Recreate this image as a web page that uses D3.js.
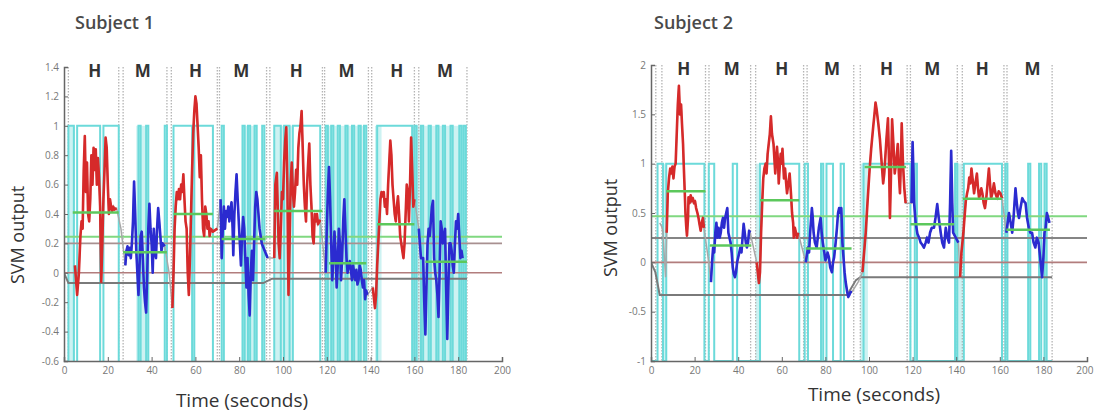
<!DOCTYPE html>
<html>
<head>
<meta charset="utf-8">
<script src="https://cdn.jsdelivr.net/npm/d3@7"></script>
<style>
  body { margin: 0; background: #fff; }
  svg text { font-family: "Open Sans", sans-serif; }
</style>
</head>
<body>
<div id="chart"></div>
<script>
// ---- shared ----
const blockLabels = ["H", "M", "H", "M", "H", "M", "H", "M"];
const xTicks = [0, 20, 40, 60, 80, 100, 120, 140, 160, 180, 200];

// ---- Subject 1 ----
const s1YTicks = [-0.6, -0.4, -0.2, 0, 0.2, 0.4, 0.6, 0.8, 1, 1.2, 1.4];
const s1LabelT = [14, 36, 60, 81, 106, 129, 152, 174];
const s1Blocks = [[5, 25], [27, 47], [49, 70], [71, 93], [94, 118], [119, 139], [140.5, 160.5], [162, 184]];
const s1Bounds = [2, 25, 27, 47, 49, 70, 71, 92.5, 94, 118, 119, 139, 140.5, 160, 162, 184];
const s1CyanHigh = [[2, 4.5], [6, 16.5], [18, 25], [34, 35], [37.5, 38.5], [46, 47], [50, 58.5], [59.5, 68],
  [72, 73], [81.5, 82.5], [84, 85], [87, 88], [90.5, 91.5], [96, 99], [100.5, 103], [104.5, 117],
  [119.5, 120.5], [122, 123], [125, 126], [128.5, 129.5], [131.5, 132.5], [134.5, 135.5],
  [137, 138], [143, 159], [160, 161], [163, 164], [166.5, 167.5], [170, 171], [173, 174], [176.5, 177.5],
  [180.5, 181.5], [182.5, 183.5]];
const s1CyanDense = [[2, 5], [33, 38.5], [81.5, 88], [96, 104], [119, 138.5], [142, 145], [158.5, 184]];
const s1Means = [[4, 25, 0.41], [27, 47, 0.14], [50, 68, 0.40], [72, 92, 0.23], [96, 118, 0.42],
  [121, 138, 0.065], [143, 160, 0.33], [165, 184, 0.075]];
const s1Threshold = 0.245;
const s1RefLines = [0, 0.2];
const s1Baseline = [[0, 0], [2, -0.07], [91, -0.07], [95, -0.04], [184, -0.04]];
const s1Series = [
  [5, 0.05], [6, -0.15], [6.8, 0.0], [7.5, 0.25], [8, 0.35], [8.5, 0.3], [9, 0.7], [9.5, 0.93], [10, 0.55],
  [10.5, 0.75], [11, 0.4], [11.5, 0.35], [12, 0.5], [12.5, 0.8], [13, 0.6], [13.5, 0.85], [14, 0.7],
  [14.5, 0.84], [15, 0.6], [15.5, 0.78], [16, 0.65], [16.5, 0.45], [17, -0.06], [17.5, 0.2], [18, 0.5],
  [18.5, 0.7], [19, 0.92], [19.5, 0.85], [20, 0.6], [20.5, 0.4], [21, 0.5], [21.5, 0.45], [22, 0.42],
  [22.5, 0.45], [23, 0.43], [24, 0.44],
  [26, 0.3], [28, 0.05], [28.5, 0.15], [29, 0.18], [29.5, 0.12], [30, 0.17], [30.5, 0.1], [31, 0.2],
  [31.5, 0.35], [32, 0.62], [32.5, 0.4], [33, 0.15], [33.5, 0.0], [34, -0.15], [34.5, 0.05], [35, 0.25],
  [35.5, 0.28], [36, 0.1], [36.5, -0.1], [37, -0.2], [37.5, -0.27], [38, 0.0], [38.5, 0.3], [39, 0.47],
  [39.5, 0.3], [40, 0.2], [40.5, 0.0], [41, 0.3], [41.5, 0.15], [42, 0.1], [42.5, 0.3], [43, 0.44],
  [43.5, 0.35], [44, 0.25], [44.5, 0.15], [45, 0.2], [46, 0.18],
  [48, 0.0], [49.5, -0.24], [50, 0.0], [50.5, 0.3], [51, 0.45], [51.5, 0.55], [52, 0.5], [52.5, 0.57],
  [53, 0.5], [53.5, 0.6], [54, 0.55], [54.5, 0.67], [55, 0.5], [55.5, 0.35], [56, 0.3], [56.5, 0.0],
  [57, -0.15], [57.5, 0.1], [58, 0.4], [58.5, 0.7], [59, 0.95], [59.5, 1.1], [60, 1.2], [60.5, 1.15],
  [61, 1.0], [61.5, 0.85], [62, 0.65], [62.5, 0.8], [63, 0.5], [63.5, 0.3], [64, 0.25], [64.5, 0.45],
  [65, 0.4], [65.5, 0.3], [66, 0.35], [66.5, 0.25], [67, 0.3], [68, 0.28],
  [70, 0.3], [71.5, 0.5], [72, 0.1], [72.5, 0.3], [73, 0.45], [73.5, 0.3], [74, 0.42], [74.5, 0.38],
  [75, 0.45], [75.5, 0.35], [76, 0.42], [76.5, 0.48], [77, 0.3], [77.3, 0.12], [77.8, 0.4], [78.3, 0.55],
  [78.8, 0.67], [79.3, 0.5], [79.8, 0.35], [80.3, 0.2], [80.8, 0.05], [81.3, 0.25], [81.8, 0.38],
  [82.3, 0.3], [82.8, 0.1], [83.3, -0.1], [83.8, 0.1], [84.3, -0.15], [84.8, -0.29], [85.3, 0.0],
  [85.8, 0.15], [86.3, -0.05], [86.8, 0.2], [87.3, 0.45], [87.8, 0.55], [88.3, 0.5], [88.8, 0.4],
  [89.3, 0.3], [89.8, 0.25], [90.3, 0.2], [90.8, 0.18],
  [93, 0.1], [96, 0.1], [96.5, 0.6], [97.2, 0.68], [98, 0.2], [98.5, 0.1], [99, 0.3], [99.5, 0.55],
  [100, 0.5], [100.5, 0.75], [101, 0.9], [101.5, 0.99], [102, 0.6], [102.5, -0.15], [103, 0.2],
  [103.5, 0.6], [104, 0.75], [104.5, 0.55], [105, 0.45], [105.5, 0.55], [106, 0.7], [106.5, 0.6],
  [107, 0.85], [107.5, 0.95], [108, 1.0], [108.5, 1.1], [109, 0.85], [109.5, 0.6], [110, 0.45],
  [110.5, 0.35], [111, 0.6], [111.5, 0.75], [112, 0.88], [112.5, 0.6], [113, 0.45], [113.5, 0.25],
  [114, 0.2], [114.5, 0.4], [115, 0.35], [115.5, 0.4], [116, 0.33], [117, 0.36],
  [119.5, 0.0], [120, 0.3], [120.5, 0.55], [121, 0.72], [121.5, 0.5], [122, 0.2], [122.5, -0.05],
  [123, 0.1], [123.5, 0.28], [124, 0.15], [124.5, -0.1], [125, 0.05], [125.5, 0.3], [126, 0.2],
  [126.5, -0.05], [127, 0.1], [127.5, 0.35], [128, 0.5], [128.5, 0.3], [129, 0.1], [129.5, 0.0],
  [130, 0.05], [130.5, 0.08], [131, 0.02], [131.5, -0.05], [132, 0.05], [132.5, 0.0], [133, -0.05],
  [133.5, 0.02], [134, -0.08], [134.5, -0.05], [135, 0.05], [135.5, 0.02], [136, -0.05], [136.5, -0.1],
  [137, -0.05], [137.5, -0.18], [138, -0.12], [138.5, -0.15],
  [141, -0.1], [142, -0.24], [142.5, -0.15], [143, 0.05], [143.5, 0.2], [144, 0.35], [144.5, 0.5],
  [145, 0.55], [145.5, 0.52], [146, 0.55], [146.5, 0.45], [147, 0.5], [147.5, 0.4], [148, 0.6],
  [148.5, 0.75], [149, 0.9], [149.5, 0.8], [150, 0.6], [150.5, 0.5], [151, 0.4], [151.5, 0.35],
  [152, 0.45], [152.5, 0.52], [153, 0.4], [153.5, 0.25], [154, 0.2], [154.5, 0.15], [155, 0.1],
  [155.5, 0.2], [156, 0.4], [156.5, 0.6], [157, 0.55], [157.5, 0.35], [158, 0.6], [158.5, 0.92],
  [159, 0.7], [159.5, 0.45], [160, 0.5],
  [162, 0.3], [163, 0.1], [164, 0.1], [164.5, -0.2], [165, -0.42], [165.5, -0.1], [166, 0.2],
  [166.5, 0.3], [167, 0.25], [167.5, 0.35], [168, 0.45], [168.5, 0.49], [169, 0.1], [169.5, 0.0],
  [170, -0.05], [170.5, -0.15], [171, -0.3], [171.5, 0.0], [172, 0.35], [172.5, 0.3], [173, 0.2],
  [173.5, 0.25], [174, 0.3], [174.5, -0.1], [175, -0.45], [175.5, -0.1], [176, 0.2], [176.5, 0.2],
  [177, 0.15], [177.5, 0.05], [178, 0.0], [178.5, 0.2], [179, 0.35], [179.5, 0.3], [180, 0.4],
  [180.5, 0.25], [181, 0.1], [181.5, 0.15], [182, 0.1]
];

// ---- Subject 2 ----
const s2YTicks = [-1, -0.5, 0, 0.5, 1, 1.5, 2];
const s2LabelT = [15, 37, 60, 83, 108, 129, 152, 175];
const s2Blocks = [[7, 25.5], [26.6, 47], [48, 70], [71, 94], [96, 118], [119, 141], [141.5, 162], [163, 184]];
const s2Bounds = [2.2, 5, 25, 26.6, 45.7, 48, 70, 71.6, 93, 96, 117.5, 119, 140.5, 142.8, 161.9, 163.3, 184];
const s2CyanHigh = [[3, 5.5], [7, 24.5], [26.5, 29], [37.5, 39.5], [50, 68], [70.5, 72], [78, 79],
  [80.5, 83.5], [87, 88.5], [97.5, 119], [121, 122], [139.5, 140.5], [143.5, 161], [162.5, 163.5],
  [173, 174], [178, 179], [180.5, 181.5]];
const s2CyanDense = [[5, 7.3], [48, 50.5], [96, 99.5], [139, 143]];
const s2Means = [[7, 25, 0.72], [27, 46, 0.17], [50, 68, 0.63], [71, 92, 0.14], [98, 117, 0.965],
  [119, 139, 0.385], [143, 161, 0.645], [163, 183, 0.33]];
const s2Threshold = 0.466;
const s2RefLines = [0];
const s2GrayLines = [0.246];
const s2Baseline = [[0, 0], [2, -0.1], [4, -0.33], [90, -0.33], [94, -0.18], [96, -0.15], [184, -0.15]];
const s2Series = [
  [4, 0.4], [5, 0.36], [5.5, 0.3], [6, 0.1], [6.7, -0.15], [7.2, 0.3], [7.7, 0.7], [8.3, 0.86], [8.8, 0.95],
  [9.3, 0.9], [9.8, 0.97], [10.3, 0.85], [10.8, 0.97], [11.3, 1.0], [11.8, 1.3], [12.3, 1.6], [12.8, 1.79],
  [13.3, 1.5], [13.8, 1.6], [14.2, 1.41], [14.7, 1.2], [15, 1.0], [15.5, 0.7], [15.8, 0.5], [16.2, 0.35],
  [16.5, 0.27], [17, 0.45], [17.2, 0.66], [17.7, 0.6], [18.2, 0.68], [18.7, 0.62], [19.2, 0.65],
  [19.7, 0.6], [20.2, 0.62], [20.7, 0.55], [21.3, 0.5], [21.8, 0.45], [22.3, 0.38], [22.8, 0.32],
  [23.3, 0.4], [23.8, 0.45], [24.3, 0.35],
  [26.5, 0.0], [27.5, -0.2], [28, 0.0], [28.5, 0.15], [29, 0.1], [29.5, 0.3], [30, 0.4], [30.5, 0.25],
  [31, 0.35], [31.5, 0.25], [32, 0.3], [32.5, 0.4], [33, 0.45], [33.5, 0.35], [34, 0.45], [34.5, 0.5],
  [35, 0.55], [35.5, 0.3], [36, 0.25], [36.5, 0.2], [37, 0.1], [37.5, -0.05], [38, -0.12], [38.5, -0.15],
  [39, -0.1], [39.5, 0.0], [40, 0.05], [40.5, 0.1], [41, 0.15], [41.5, 0.1], [42, 0.25], [42.5, 0.39],
  [43, 0.3], [43.5, 0.2], [44, 0.15], [44.5, 0.2], [45, 0.32], [45.5, 0.3],
  [48.5, 0.0], [49.5, -0.21], [50, -0.1], [50.5, 0.3], [51, 0.6], [51.5, 0.85], [52, 0.95], [52.6, 1.0],
  [53, 0.9], [53.5, 1.1], [54, 1.2], [54.5, 1.3], [55, 1.48], [55.5, 1.3], [56.2, 1.2], [57, 0.9],
  [57.8, 1.17], [58.3, 1.0], [58.6, 0.8], [59, 0.95], [59.5, 1.1], [60, 1.0], [60.3, 1.15], [61, 0.85],
  [61.5, 0.95], [62, 0.8], [62.4, 0.7], [63, 0.8], [63.6, 0.9], [64.2, 0.7], [64.7, 0.5], [65.2, 0.4],
  [65.5, 0.25], [66, 0.35], [66.5, 0.3], [67, 0.25], [67.5, 0.3],
  [71, 0.0], [72, 0.15], [72.5, 0.1], [73, 0.3], [73.8, 0.55], [74.2, 0.45], [74.6, 0.3], [75.2, 0.2],
  [76, 0.15], [76.5, 0.25], [77, 0.35], [77.8, 0.45], [78.3, 0.3], [78.8, 0.2], [79.5, 0.1], [80, 0.02],
  [80.5, 0.05], [81, 0.1], [81.6, 0.05], [82.2, -0.05], [83, -0.1], [83.5, 0.0], [84, 0.05], [84.7, 0.2],
  [85.3, 0.35], [85.8, 0.5], [86.3, 0.55], [86.8, 0.5], [87.3, 0.55], [87.8, 0.2], [88.3, 0.05],
  [88.8, -0.1], [89.3, -0.2], [90, -0.3], [90.5, -0.35], [91, -0.33], [91.5, -0.3], [92.2, -0.3],
  [95, -0.2], [97, -0.1], [98.5, 0.3], [99.3, 0.6], [100.3, 0.95], [101, 1.15], [102, 1.39], [102.5, 1.5],
  [103, 1.62], [103.5, 1.55], [104.3, 1.4], [105, 1.25], [105.5, 1.1], [106, 0.95], [106.5, 0.8],
  [107, 0.9], [107.3, 1.0], [108, 1.25], [108.7, 1.46], [109.2, 1.0], [109.6, 0.45], [110, 0.8],
  [110.6, 1.45], [111.2, 1.2], [111.8, 0.9], [112.4, 1.0], [113.2, 1.2], [113.7, 0.9], [114.2, 0.7],
  [114.6, 1.0], [115, 1.41], [115.6, 1.0], [116.2, 0.75], [116.8, 0.6],
  [119.5, 0.6], [120, 1.22], [120.4, 0.9], [120.7, 0.6], [121.4, 0.4], [122.2, 0.29], [123, 0.25],
  [123.7, 0.2], [124.4, 0.18], [125.2, 0.15], [126, 0.2], [126.6, 0.25], [127.3, 0.2], [128, 0.3],
  [128.8, 0.35], [129.8, 0.35], [130.5, 0.45], [131.3, 0.59], [132, 0.45], [132.9, 0.3], [133.6, 0.2],
  [134.4, 0.15], [135.2, 0.35], [136, 0.25], [136.7, 0.2], [137.2, 0.6], [137.7, 1.13], [138.2, 0.6],
  [138.6, 0.3],
  [141, 0.2], [141.8, -0.15], [142.4, 0.1], [143.3, 0.3], [143.8, 0.45], [144.4, 0.62], [145, 0.7],
  [145.5, 0.75], [146, 0.86], [146.5, 0.8], [147, 0.95], [147.5, 0.85], [148.2, 0.7], [148.8, 0.8],
  [149.5, 0.9], [150, 0.75], [150.5, 0.65], [151, 0.7], [151.5, 0.75], [152, 0.7], [152.6, 0.6],
  [153.2, 0.55], [153.8, 0.65], [154.4, 0.8], [155, 0.95], [155.5, 0.8], [156, 0.65], [156.6, 0.7],
  [157.3, 0.8], [158, 0.7], [158.8, 0.65], [159.5, 0.72], [160.3, 0.7], [161, 0.65],
  [163, 0.3], [164.2, 0.5], [165, 0.4], [165.7, 0.3], [166.3, 0.45], [167.2, 0.75], [167.8, 0.6],
  [168.3, 0.5], [168.8, 0.45], [169.5, 0.55], [170.3, 0.65], [171, 0.62], [171.8, 0.6], [172.5, 0.45],
  [173.3, 0.35], [174, 0.3], [174.8, 0.3], [175.5, 0.2], [176.3, 0.15], [177, 0.25], [177.8, 0.2],
  [178.5, 0.05], [179.4, -0.15], [180, 0.05], [180.5, 0.3], [181, 0.35], [181.6, 0.5], [182.2, 0.45],
  [182.8, 0.4]
];

const width = 1094, height = 412;
const svg = d3.select("#chart").append("svg")
  .attr("width", width)
  .attr("height", height);

const panels = [
  {
    id: "p1", title: "Subject 1", titleX: 75, titleY: 29,
    left: 64, right: 502, top: 67, bottom: 361, yDomain: [-0.6, 1.4], yTicks: s1YTicks,
    ylabX: 24, ylabY: 235, xlabX: 242, xlabY: 407,
    labelT: s1LabelT, blocks: s1Blocks, bounds: s1Bounds, cyanHigh: s1CyanHigh, dense: s1CyanDense,
    means: s1Means, threshold: s1Threshold, refLines: s1RefLines, grayLines: [], baseline: s1Baseline,
    series: s1Series, cyanStart: 0, cyanEnd: 184
  },
  {
    id: "p2", title: "Subject 2", titleX: 654, titleY: 29,
    left: 651, right: 1087, top: 65, bottom: 361, yDomain: [-1, 2], yTicks: s2YTicks,
    ylabX: 617, ylabY: 228, xlabX: 874, xlabY: 401,
    labelT: s2LabelT, blocks: s2Blocks, bounds: s2Bounds, cyanHigh: s2CyanHigh, dense: s2CyanDense,
    means: s2Means, threshold: s2Threshold, refLines: s2RefLines, grayLines: s2GrayLines, baseline: s2Baseline,
    series: s2Series, cyanStart: 0, cyanEnd: 184
  }
];

panels.forEach(drawPanel);

function drawPanel(p) {
  const x = d3.scaleLinear().domain([0, 200]).range([p.left, p.right]);
  const y = d3.scaleLinear().domain(p.yDomain).range([p.bottom, p.top]);
  const g = svg.append("g");

  g.append("clipPath").attr("id", "clip-" + p.id)
    .append("rect")
    .attr("x", p.left).attr("y", p.top)
    .attr("width", p.right - p.left).attr("height", p.bottom - p.top);

  const plot = g.append("g").attr("clip-path", `url(#clip-${p.id})`);
  const line = d3.line().x(d => x(d[0])).y(d => y(d[1]));

  // pale cyan where the prediction flips fast
  plot.selectAll("rect.dense").data(p.dense).join("rect")
    .attr("class", "dense")
    .attr("x", d => x(d[0]))
    .attr("width", d => x(d[1]) - x(d[0]))
    .attr("y", y(1))
    .attr("height", p.bottom - y(1))
    .attr("fill", "#cdf2f2");

  // dotted block boundaries
  plot.selectAll("line.bound").data(p.bounds).join("line")
    .attr("class", "bound")
    .attr("x1", d => x(d)).attr("x2", d => x(d))
    .attr("y1", p.top).attr("y2", p.bottom)
    .attr("stroke", "#b4b4b4")
    .attr("stroke-width", 1.3)
    .attr("stroke-dasharray", "1.5,1.5");

  // cyan prediction square wave
  let cyanPts = [[p.cyanStart, -1]];
  p.cyanHigh.forEach(function (d) {
    cyanPts.push([d[0], -1], [d[0], 1], [d[1], 1], [d[1], -1]);
  });
  cyanPts.push([p.cyanEnd, -1]);
  plot.append("path")
    .attr("d", line(cyanPts))
    .attr("fill", "none")
    .attr("stroke", "#6cdada")
    .attr("stroke-width", 2);

  // reference lines
  plot.selectAll("line.ref").data(p.refLines).join("line")
    .attr("class", "ref")
    .attr("x1", x(0)).attr("x2", x(200))
    .attr("y1", d => y(d)).attr("y2", d => y(d))
    .attr("stroke", (d, i) => i == 0 ? "#b27d7d" : "#a89090")
    .attr("stroke-width", 1.6);

  plot.selectAll("line.gray").data(p.grayLines).join("line")
    .attr("class", "gray")
    .attr("x1", x(0)).attr("x2", x(200))
    .attr("y1", d => y(d)).attr("y2", d => y(d))
    .attr("stroke", "#858585")
    .attr("stroke-width", 2);

  plot.append("path")
    .attr("d", line(p.baseline))
    .attr("fill", "none")
    .attr("stroke", "#7a7a7a")
    .attr("stroke-width", 2);

  plot.append("line")
    .attr("x1", x(0)).attr("x2", x(200))
    .attr("y1", y(p.threshold)).attr("y2", y(p.threshold))
    .attr("stroke", "#80d880")
    .attr("stroke-width", 2);

  // raw output underneath
  plot.append("path")
    .attr("d", line(p.series))
    .attr("fill", "none")
    .attr("stroke", "#a8a8a8")
    .attr("stroke-width", 1.5);

  // coloured per block
  p.blocks.forEach(function (b, i) {
    const seg = p.series.filter(d => d[0] >= b[0] && d[0] <= b[1]);
    plot.append("path")
      .attr("d", line(seg))
      .attr("fill", "none")
      .attr("stroke", blockLabels[i] == "H" ? "#d62a2a" : "#2b2bd0")
      .attr("stroke-width", 2.6)
      .attr("stroke-linejoin", "round");
  });

  // block means
  plot.selectAll("line.mean").data(p.means).join("line")
    .attr("class", "mean")
    .attr("x1", d => x(d[0])).attr("x2", d => x(d[1]))
    .attr("y1", d => y(d[2])).attr("y2", d => y(d[2]))
    .attr("stroke", "#5cc85c")
    .attr("stroke-width", 2.5);

  // H / M labels
  g.selectAll("text.blk").data(p.labelT).join("text")
    .attr("class", "blk")
    .attr("x", d => x(d))
    .attr("y", p.top + 10)
    .attr("text-anchor", "middle")
    .attr("font-size", 17)
    .attr("font-weight", "bold")
    .attr("fill", "#333")
    .text((d, i) => blockLabels[i]);

  // axes
  const fmt = d => String(+d.toFixed(1));
  const yAxis = g.append("g")
    .attr("transform", `translate(${p.left},0)`)
    .call(d3.axisLeft(y).tickValues(p.yTicks).tickFormat(fmt).tickSize(-4).tickPadding(5));
  const xAxis = g.append("g")
    .attr("transform", `translate(0,${p.bottom})`)
    .call(d3.axisBottom(x).tickValues(xTicks).tickSize(-4).tickPadding(6));
  [xAxis, yAxis].forEach(function (a) {
    a.select(".domain").attr("stroke", "#666").attr("stroke-width", 1.5);
    a.selectAll(".tick line").attr("stroke", "#666");
    a.selectAll(".tick text").attr("fill", "#777").attr("font-size", 10)
      .style("font-family", "'Open Sans', sans-serif");
  });
  // keep the last tick label inside the window
  xAxis.selectAll(".tick text").filter(d => x(d) > width - 12)
    .attr("text-anchor", "end").attr("dx", 6);

  // titles
  svg.append("text")
    .attr("x", p.titleX).attr("y", p.titleY)
    .attr("font-size", 18)
    .attr("font-weight", 600)
    .attr("fill", "#4a4a4a")
    .text(p.title);

  svg.append("text")
    .attr("transform", `translate(${p.ylabX},${p.ylabY}) rotate(-90)`)
    .attr("text-anchor", "middle")
    .attr("font-size", 18)
    .attr("fill", "#333")
    .text("SVM output");

  svg.append("text")
    .attr("x", p.xlabX).attr("y", p.xlabY)
    .attr("text-anchor", "middle")
    .attr("font-size", 19)
    .attr("fill", "#333")
    .text("Time (seconds)");
}
</script>
</body>
</html>
